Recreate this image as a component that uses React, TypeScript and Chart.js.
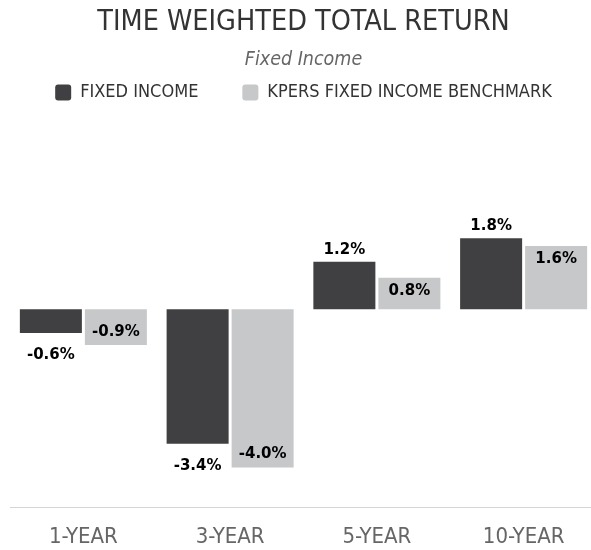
import React, { useEffect, useRef } from "react";
import { Chart, registerables } from "chart.js";

Chart.register(...registerables);

// ---- data ----
const categories = ["1-YEAR", "3-YEAR", "5-YEAR", "10-YEAR"];
const seriesNames = ["FIXED INCOME", "KPERS FIXED INCOME BENCHMARK"];
const fixedIncome = [-0.6, -3.4, 1.2, 1.8];
const benchmark = [-0.9, -4.0, 0.8, 1.6];
const titleText = "TIME WEIGHTED TOTAL RETURN";
const subtitleText = "Fixed Income";
const yMin = -5;
const yMax = 5;

// ---- styles ----
const FONT = "'DejaVu Sans Condensed', 'Liberation Sans Narrow', 'DejaVu Sans', sans-serif";
const LABEL_FONT = "bold 15px 'DejaVu Sans', Verdana, sans-serif";
const DARK = "#404042";
const LIGHT = "#c7c8ca";

const valueLabels = {
  id: "valueLabels",
  afterDatasetsDraw(chart: any) {
    const ctx = chart.ctx;
    ctx.save();
    ctx.font = LABEL_FONT;
    ctx.fillStyle = "#000000";
    ctx.textAlign = "center";
    ctx.textBaseline = "middle";
    chart.data.datasets.forEach((ds: any, di: number) => {
      const meta = chart.getDatasetMeta(di);
      meta.data.forEach((bar: any, i: number) => {
        const v = ds.data[i] as number;
        const neg = v < 0;
        let off: number;
        if (di === 1) off = neg ? -13 : 13; // inside end
        else off = neg ? 22 : -12; // outside end
        ctx.fillText(v.toFixed(1) + "%", bar.x, bar.y + off);
      });
    });
    ctx.restore();
  },
};

export default function App() {
  const ref = useRef<HTMLCanvasElement | null>(null);

  useEffect(() => {
    if (!ref.current) return;
    const chart = new Chart(ref.current, {
      type: "bar",
      data: {
        labels: categories,
        datasets: [
          {
            label: seriesNames[0],
            data: fixedIncome,
            backgroundColor: DARK,
            borderWidth: 0,
            categoryPercentage: 0.886,
            barPercentage: 0.954,
          },
          {
            label: seriesNames[1],
            data: benchmark,
            backgroundColor: LIGHT,
            borderWidth: 0,
            categoryPercentage: 0.886,
            barPercentage: 0.954,
          },
        ],
      },
      options: {
        animation: false,
        responsive: true,
        maintainAspectRatio: false,
        layout: { padding: { left: 10, right: 1, top: 0, bottom: -17.4 } },
        plugins: {
          title: {
            display: true,
            text: titleText,
            color: "#333333",
            font: { family: FONT, size: 28.5, weight: "normal" },
            padding: { top: 5, bottom: -24 },
          },
          subtitle: {
            display: true,
            text: subtitleText,
            color: "#666666",
            font: { family: FONT, size: 19.5, style: "italic", weight: "normal" },
            padding: { top: 33.1, bottom: -32.1 },
          },
          legend: {
            display: true,
            position: "top",
            labels: {
              color: "#333333",
              font: { family: FONT, size: 18 },
              boxWidth: 16,
              boxHeight: 16,
              padding: 44,
              useBorderRadius: true,
              borderRadius: 3,
            },
          },
          tooltip: { enabled: false },
        },
        scales: {
          x: {
            grid: { display: false, drawTicks: false },
            border: { display: true, color: "#ccd6eb", width: 1 },
            ticks: {
              color: "#666666",
              font: { family: FONT, size: 22 },
              padding: 17,
              maxRotation: 0,
              autoSkip: false,
            },
          },
          y: {
            display: false,
            min: yMin,
            max: yMax,
            grid: { display: false },
          },
        },
      },
      plugins: [valueLabels],
    } as any);
    return () => chart.destroy();
  }, []);

  return (
    <div
      style={{
        position: "fixed",
        left: 0,
        top: 0,
        width: 591,
        height: 550,
        overflow: "hidden",
        background: "#ffffff",
      }}
    >
      <div style={{ position: "absolute", left: 0, top: 0, width: 598, height: 550 }}>
        <canvas ref={ref} />
      </div>
    </div>
  );
}
